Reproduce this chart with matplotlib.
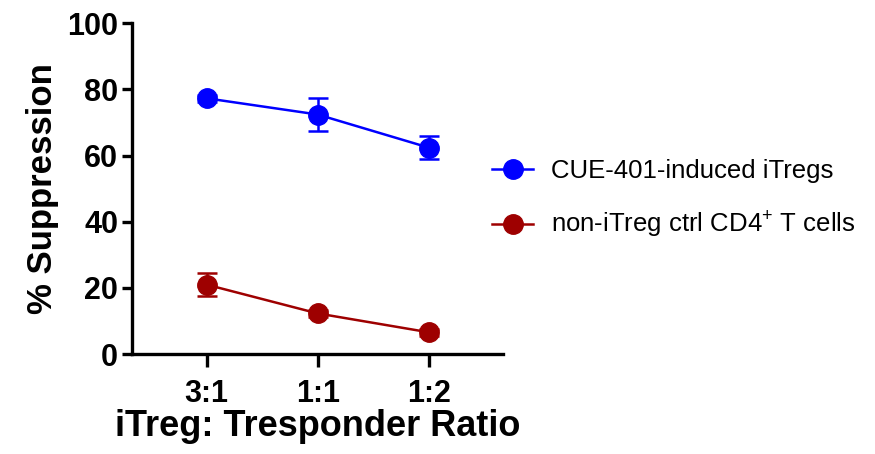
import numpy as np
import matplotlib.pyplot as plt

plt.rcParams['font.family'] = ['Liberation Sans', 'DejaVu Sans']
plt.rcParams['mathtext.default'] = 'regular'

ratios = ['3:1', '1:1', '1:2']
itreg_mean = [77.3, 72.4, 62.4]
itreg_err = [1.0, 5.0, 3.5]
ctrl_mean = [21.0, 12.3, 6.6]
ctrl_err = [3.4, 1.0, 1.0]

x = np.arange(1, len(ratios) + 1)

fig = plt.figure(figsize=(8.75, 4.54), dpi=100)
ax = fig.add_axes([0.151, 0.22, 0.424, 0.729])

ax.errorbar(x, itreg_mean, yerr=itreg_err, color='#0000ff', marker='o',
            markersize=14, linewidth=1.8, capsize=7, capthick=1.8,
            elinewidth=1.8, label='CUE-401-induced iTregs')
ax.errorbar(x, ctrl_mean, yerr=ctrl_err, color='#9e0000', marker='o',
            markersize=14, linewidth=1.8, capsize=7, capthick=1.8,
            elinewidth=1.8, label='non-iTreg ctrl CD4$^{+}$ T cells')

ax.set_xlim(0.33, 3.67)
ax.set_ylim(0, 100)
ax.set_xticks(x)
ax.set_xticklabels(ratios)
ax.set_yticks([0, 20, 40, 60, 80, 100])

for s in ['top', 'right']:
    ax.spines[s].set_visible(False)
for s in ['left', 'bottom']:
    ax.spines[s].set_linewidth(2.4)
ax.tick_params(width=2.4, length=7, labelsize=22, pad=3)
for lab in ax.get_xticklabels() + ax.get_yticklabels():
    lab.set_fontweight('bold')
ax.tick_params(axis='x', length=9, pad=9)

ax.set_xlabel('iTreg: Tresponder Ratio', fontsize=26, fontweight='bold', labelpad=0)
ax.set_ylabel('% Suppression', fontsize=25, fontweight='bold', labelpad=6)

h, l = ax.get_legend_handles_labels()
h = [hh[0] for hh in h]
fig.legend(h, l, loc='center left', bbox_to_anchor=(0.536, 0.56),
           frameon=False, fontsize=18.5, handlelength=1.6, labelspacing=1.05,
           handletextpad=0.7)

fig.savefig('out.png', dpi=100)
